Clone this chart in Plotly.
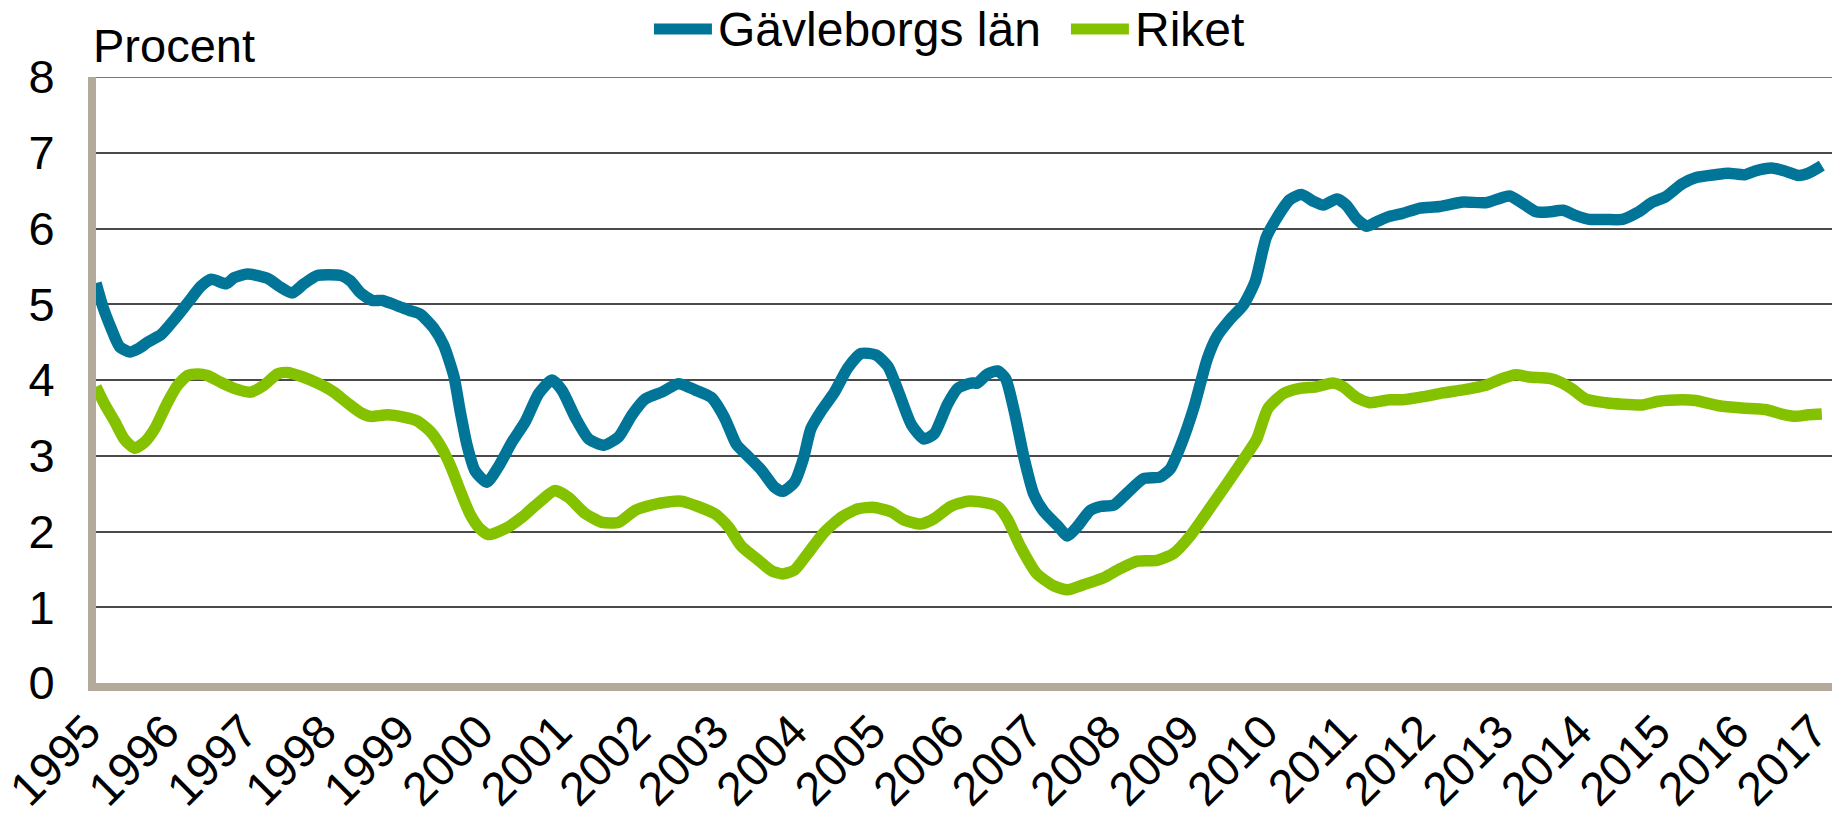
import plotly.graph_objects as go

# Period (decimal year) and share in percent
gavle_year = [1995.00, 1995.09, 1995.19, 1995.30, 1995.43, 1995.55, 1995.66, 1995.83,
              1996.00, 1996.17, 1996.34, 1996.47, 1996.66, 1996.76, 1996.93, 1997.19,
              1997.33, 1997.50, 1997.65, 1997.82, 1998.12, 1998.24, 1998.37, 1998.52,
              1998.65, 1998.84, 1998.99, 1999.13, 1999.30, 1999.43, 1999.56, 1999.64,
              1999.73, 1999.83, 1999.98, 2000.13, 2000.30, 2000.47, 2000.64, 2000.81,
              2000.94, 2001.11, 2001.28, 2001.47, 2001.66, 2001.83, 2002.00, 2002.21,
              2002.42, 2002.63, 2002.84, 2003.01, 2003.16, 2003.31, 2003.48, 2003.65,
              2003.75, 2003.90, 2004.01, 2004.11, 2004.24, 2004.41, 2004.58, 2004.75,
              2004.94, 2005.09, 2005.22, 2005.39, 2005.55, 2005.68, 2005.85, 2005.98,
              2006.15, 2006.23, 2006.36, 2006.49, 2006.59, 2006.70, 2006.83, 2006.95,
              2007.08, 2007.25, 2007.38, 2007.50, 2007.67, 2007.80, 2007.97, 2008.14,
              2008.35, 2008.56, 2008.69, 2008.82, 2008.99, 2009.16, 2009.28, 2009.45,
              2009.62, 2009.77, 2009.91, 2010.04, 2010.21, 2010.36, 2010.51, 2010.64,
              2010.81, 2010.93, 2011.06, 2011.19, 2011.32, 2011.48, 2011.65, 2011.87,
              2012.12, 2012.42, 2012.71, 2013.01, 2013.18, 2013.35, 2013.52, 2013.69,
              2013.86, 2014.03, 2014.24, 2014.45, 2014.64, 2014.82, 2015.00, 2015.21,
              2015.38, 2015.63, 2015.80, 2016.01, 2016.14, 2016.35, 2016.52, 2016.69,
              2016.82, 2016.99]
gavle_value = [5.28, 4.96, 4.69, 4.44, 4.37, 4.42, 4.50, 4.60,
               4.80, 5.02, 5.24, 5.33, 5.27, 5.35, 5.40, 5.34,
               5.24, 5.15, 5.27, 5.38, 5.38, 5.31, 5.15, 5.05,
               5.05, 4.98, 4.92, 4.87, 4.69, 4.46, 4.05, 3.59,
               3.13, 2.80, 2.65, 2.86, 3.18, 3.45, 3.82, 4.00,
               3.86, 3.50, 3.22, 3.14, 3.25, 3.54, 3.75, 3.84,
               3.95, 3.87, 3.77, 3.50, 3.15, 2.99, 2.81, 2.58,
               2.53, 2.65, 2.95, 3.36, 3.59, 3.84, 4.16, 4.35,
               4.33, 4.18, 3.86, 3.41, 3.22, 3.29, 3.68, 3.89,
               3.96, 3.96, 4.08, 4.12, 4.02, 3.59, 2.95, 2.49,
               2.26, 2.08, 1.94, 2.06, 2.28, 2.33, 2.35, 2.51,
               2.70, 2.72, 2.83, 3.13, 3.64, 4.28, 4.57, 4.80,
               4.99, 5.30, 5.88, 6.13, 6.38, 6.45, 6.36, 6.31,
               6.39, 6.31, 6.13, 6.03, 6.09, 6.16, 6.20, 6.27,
               6.29, 6.35, 6.34, 6.43, 6.33, 6.22, 6.22, 6.24,
               6.17, 6.12, 6.12, 6.12, 6.21, 6.34, 6.42, 6.59,
               6.67, 6.71, 6.73, 6.71, 6.76, 6.80, 6.76, 6.70,
               6.73, 6.83]

riket_year = [1995.00, 1995.11, 1995.24, 1995.36, 1995.49, 1995.62, 1995.75, 1995.91,
              1996.04, 1996.17, 1996.30, 1996.42, 1996.59, 1996.76, 1996.97, 1997.14,
              1997.31, 1997.44, 1997.61, 1997.82, 1998.03, 1998.20, 1998.37, 1998.50,
              1998.71, 1998.92, 1999.09, 1999.26, 1999.39, 1999.52, 1999.64, 1999.77,
              1999.88, 2000.00, 2000.22, 2000.43, 2000.64, 2000.85, 2001.02, 2001.23,
              2001.45, 2001.66, 2001.87, 2002.08, 2002.29, 2002.46, 2002.67, 2002.89,
              2003.06, 2003.22, 2003.44, 2003.61, 2003.75, 2003.90, 2004.07, 2004.28,
              2004.50, 2004.71, 2004.90, 2005.13, 2005.30, 2005.51, 2005.68, 2005.89,
              2006.11, 2006.32, 2006.49, 2006.61, 2006.78, 2006.99, 2007.21, 2007.38,
              2007.59, 2007.84, 2008.05, 2008.27, 2008.52, 2008.73, 2008.94, 2009.16,
              2009.41, 2009.62, 2009.79, 2009.93, 2010.13, 2010.34, 2010.55, 2010.76,
              2010.89, 2011.06, 2011.23, 2011.48, 2011.65, 2011.91, 2012.16, 2012.42,
              2012.71, 2012.92, 2013.09, 2013.26, 2013.52, 2013.66, 2013.81, 2013.98,
              2014.24, 2014.45, 2014.70, 2014.91, 2015.21, 2015.38, 2015.68, 2015.97,
              2016.27, 2016.48, 2016.65, 2016.82, 2016.99]
riket_value = [3.91, 3.68, 3.45, 3.22, 3.10, 3.18, 3.36, 3.70,
               3.93, 4.06, 4.08, 4.06, 3.97, 3.89, 3.84, 3.93,
               4.08, 4.10, 4.05, 3.96, 3.84, 3.70, 3.57, 3.52,
               3.54, 3.51, 3.46, 3.32, 3.13, 2.86, 2.54, 2.22,
               2.05, 1.96, 2.04, 2.19, 2.38, 2.54, 2.45, 2.24,
               2.12, 2.12, 2.28, 2.35, 2.39, 2.40, 2.33, 2.23,
               2.06, 1.81, 1.62, 1.48, 1.44, 1.49, 1.71, 1.99,
               2.19, 2.30, 2.32, 2.26, 2.15, 2.10, 2.17, 2.33,
               2.40, 2.38, 2.33, 2.17, 1.80, 1.44, 1.28, 1.23,
               1.30, 1.39, 1.51, 1.61, 1.62, 1.71, 1.94, 2.26,
               2.63, 2.95, 3.22, 3.62, 3.82, 3.89, 3.91, 3.96,
               3.91, 3.77, 3.70, 3.74, 3.74, 3.78, 3.83, 3.87,
               3.93, 4.02, 4.07, 4.04, 4.02, 3.97, 3.88, 3.75,
               3.70, 3.68, 3.67, 3.72, 3.74, 3.73, 3.66, 3.63,
               3.61, 3.55, 3.52, 3.54, 3.55]

tick_years = list(range(1995, 2018))
tick_labels = [str(y) for y in tick_years]
y_ticks = list(range(0, 9))

series_names = ["Gävleborgs län", "Riket"]
series_colors = ["#007598", "#84c200"]

FONT = "Liberation Sans, Arial, Helvetica, sans-serif"
LINE_W = 11.5
GRID = "#4a4a4a"

fig = go.Figure()
for name, xs, ys, col in [
    (series_names[0], gavle_year, gavle_value, series_colors[0]),
    (series_names[1], riket_year, riket_value, series_colors[1]),
]:
    fig.add_trace(go.Scatter(
        x=xs, y=ys, name=name, mode="lines",
        line=dict(color=col, width=LINE_W, shape="spline", smoothing=0.6),
        hoverinfo="skip", showlegend=False,
    ))

# Manual legend (long thick keys, as in the original)
legend_y = 1.0792
legend_keys = [(0.3214, 0.3548, 0.3571), (0.5616, 0.5950, 0.5974)]
shapes = []
annotations = []
for (x0, x1, xt), name, col in zip(legend_keys, series_names, series_colors):
    shapes.append(dict(type="line", xref="paper", yref="paper",
                       x0=x0, x1=x1, y0=legend_y, y1=legend_y,
                       line=dict(color=col, width=11)))
    annotations.append(dict(text=name, xref="paper", yref="paper", x=xt, y=legend_y,
                            xanchor="left", yanchor="middle", showarrow=False,
                            font=dict(family=FONT, size=48, color="black")))

# top gridline at 8 (on the plot edge)
shapes.append(dict(type="line", xref="paper", yref="y", x0=0, x1=1, y0=8, y1=8,
                   line=dict(color=GRID, width=1.6), layer="below"))

annotations.append(dict(
    text="Procent", xref="paper", yref="paper", x=0, y=1,
    xanchor="left", yanchor="bottom", yshift=3, xshift=-5, showarrow=False,
    font=dict(family=FONT, size=47, color="black"),
))

fig.update_layout(
    width=1832, height=817,
    margin=dict(l=96, r=0, t=77, b=134, autoexpand=False),
    paper_bgcolor="white", plot_bgcolor="white",
    font=dict(family=FONT, size=47, color="black"),
    showlegend=False,
    shapes=shapes,
    annotations=annotations,
)

fig.update_xaxes(
    range=[1995, 2017.12], tickmode="array", tickvals=tick_years, ticktext=tick_labels,
    tickangle=-45, showgrid=False, zeroline=False,
    showline=True, linecolor="#b3aa9b", linewidth=8,
    ticks="", ticklabelstandoff=-6, ticklabelshift=-9, automargin=False,
    ticklabeloverflow="allow",
    tickfont=dict(family=FONT, size=47, color="black"),
)
fig.update_yaxes(
    range=[0, 8], tickmode="array", tickvals=y_ticks,
    showgrid=True, gridcolor=GRID, gridwidth=1.6, zeroline=False,
    showline=True, linecolor="#b3aa9b", linewidth=8,
    ticks="", ticklabelstandoff=24, automargin=False,
    tickfont=dict(family=FONT, size=47, color="black"),
)

fig.write_html("out.html", config={"displayModeBar": False},
               post_script="document.body.style.margin='0px';")
